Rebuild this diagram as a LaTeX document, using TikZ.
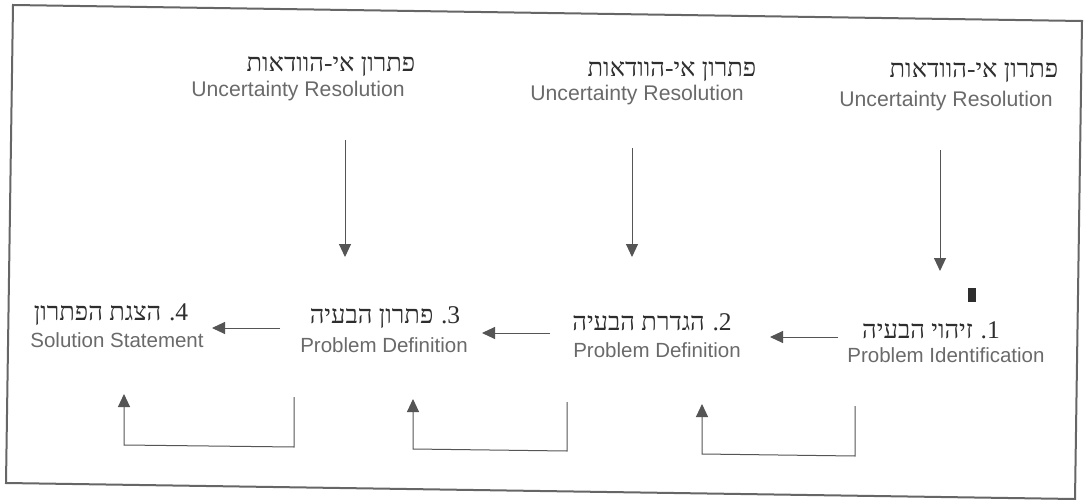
\documentclass[tikz,border=0pt]{standalone}
\usepackage{fontspec}
\setmainfont{Liberation Sans}
\newfontfamily\heb[Script=Hebrew]{Liberation Serif}
\newfontfamily\hebnum{Liberation Serif}
\TeXXeTstate=1
\usetikzlibrary{arrows.meta}
\definecolor{engc}{HTML}{6A6A6A}
\definecolor{hebc}{HTML}{2E2E2E}
\definecolor{linec}{HTML}{555555}
\definecolor{framec}{HTML}{666666}
\tikzset{
  engtxt/.style={inner sep=0pt, text=engc, font=\fontsize{20.5}{22}\selectfont},
  toptxt/.style={inner sep=0pt, text=engc, font=\fontsize{21.2}{23}\selectfont},
  hebtxt/.style={inner sep=0pt, text=hebc, font=\heb\fontsize{25.5}{27}\selectfont},
  conn/.style={draw=linec, line width=1pt, -{Triangle[length=13pt,width=12pt]}},
}
% visual order: Hebrew words, space, period, digit
\newcommand{\numdot}[1]{\hspace{0.3em}\hbox{\hebnum .}\hbox{\hebnum #1}}
\begin{document}
\begin{tikzpicture}[x=1pt,y=-1pt]
\useasboundingbox (0,0) rectangle (1086,500);
\fill[white] (0,0) rectangle (1086,500);
\draw[framec, line width=2pt] (13,5) -- (1082,21) -- (1075,499) -- (6,483) -- cycle;

% top labels
\node[hebtxt] (u1h) at (974,73) {\beginR פתרון אי-הוודאות\endR};
\node[toptxt] (u1e) at (946,101) {Uncertainty Resolution};
\node[hebtxt] (u2h) at (672,72) {\beginR פתרון אי-הוודאות\endR};
\node[toptxt] (u2e) at (637,95) {Uncertainty Resolution};
\node[hebtxt] (u3h) at (331,67) {\beginR פתרון אי-הוודאות\endR};
\node[toptxt] (u3e) at (298,91) {Uncertainty Resolution};

% step labels
\node[hebtxt] (s1h) at (931,330) {\hbox{\beginR זיהוי הבעיה\endR}\numdot{1}};
\node[engtxt] (s1e) at (946,355) {Problem Identification};
\node[hebtxt] (s2h) at (652,322) {\hbox{\beginR הגדרת הבעיה\endR}\numdot{2}};
\node[engtxt] (s2e) at (657,350) {Problem Definition};
\node[hebtxt] (s3h) at (385,318) {\hbox{\beginR פתרון הבעיה\endR}\numdot{3}};
\node[engtxt] (s3e) at (384,345) {Problem Definition};
\node[hebtxt] (s4h) at (111,315) {\hbox{\beginR הצגת הפתרון\endR}\numdot{4}};
\node[engtxt] (s4e) at (117,340) {Solution Statement};

% stray mark
\fill[hebc] (968,288) rectangle (976,302);

% vertical arrows
\coordinate (v1a) at (940,150); \coordinate (v1b) at (940,271);
\coordinate (v2a) at (632,148); \coordinate (v2b) at (632,257);
\coordinate (v3a) at (345,140); \coordinate (v3b) at (345,257);
\draw[conn] (v1a) -- (v1b);
\draw[conn] (v2a) -- (v2b);
\draw[conn] (v3a) -- (v3b);

% horizontal arrows
\coordinate (h1a) at (838,337); \coordinate (h1b) at (770,337);
\coordinate (h2a) at (550,333); \coordinate (h2b) at (482,333);
\coordinate (h3a) at (280,328); \coordinate (h3b) at (212,328);
\draw[conn] (h1a) -- (h1b);
\draw[conn] (h2a) -- (h2b);
\draw[conn] (h3a) -- (h3b);

% feedback loops
\coordinate (l1a) at (855,406); \coordinate (l1b) at (855,456);
\coordinate (l1c) at (702,454); \coordinate (l1d) at (702,404);
\draw[conn] (l1a) -- (l1b) -- (l1c) -- (l1d);
\coordinate (l2a) at (567,402); \coordinate (l2b) at (567,451);
\coordinate (l2c) at (413,449); \coordinate (l2d) at (413,399);
\draw[conn] (l2a) -- (l2b) -- (l2c) -- (l2d);
\coordinate (l3a) at (294,397); \coordinate (l3b) at (294,447);
\coordinate (l3c) at (124,445); \coordinate (l3d) at (124,394);
\draw[conn] (l3a) -- (l3b) -- (l3c) -- (l3d);
\end{tikzpicture}
\end{document}
